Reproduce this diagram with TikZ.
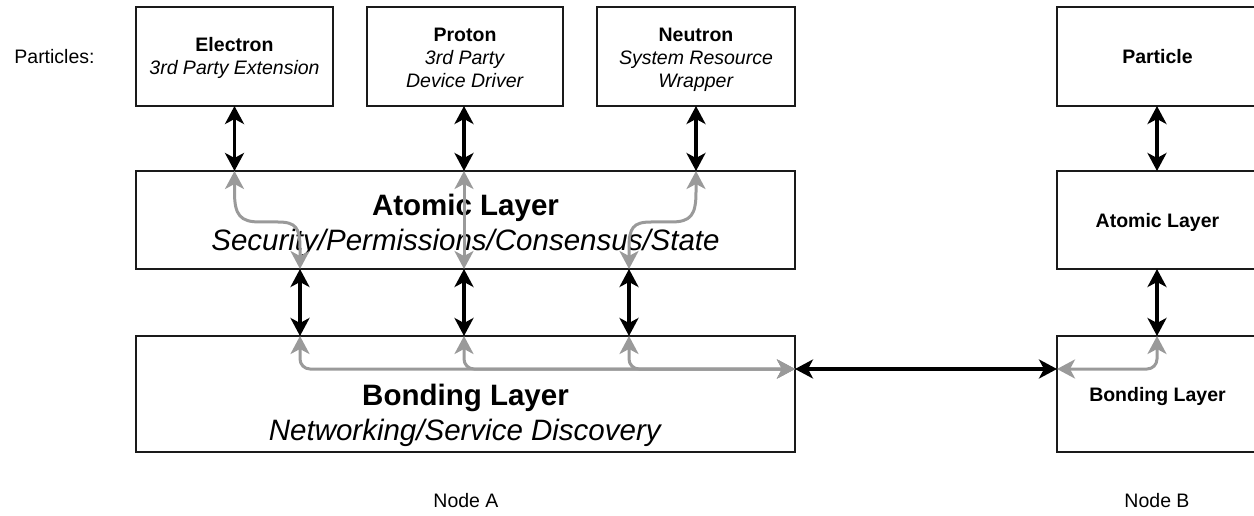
\documentclass[tikz,border=0pt]{standalone}
\usepackage{fontspec}
\setmainfont{Liberation Sans}
\usetikzlibrary{arrows.meta}
\definecolor{edgegray}{HTML}{9A9A9A}
\definecolor{boxline}{HTML}{1A1A1A}
\newcommand\fsmallx{\fontsize{19.5}{23}\selectfont}
\newcommand\fbigx{\fontsize{29.5}{35}\selectfont}
\tikzset{
  box/.style={draw=boxline, line width=2pt, inner sep=0pt, outer sep=0pt, rectangle, align=center, font=\fsmallx},
  onebox/.style={box, text depth=0pt},
  tipx/.tip={Stealth[length=18pt,width=19pt,inset=5pt]},
  blk/.style={draw=black, line width=3.2pt, tipx-tipx},
  gry/.style={draw=edgegray, line width=3pt, tipx-tipx},
  lbl/.style={inner sep=0pt, font=\fsmallx, align=center},
}
\begin{document}
\begin{tikzpicture}[x=1pt,y=-1pt]
\useasboundingbox (0,0) rectangle (1254,516);
% boxes
\node[box, minimum width=197pt, minimum height=99pt] (electron) at (234.5,56.5) {};
\node[lbl] (electronT) at (234.5,58) {\textbf{Electron}\\\textit{3rd Party Extension}};
\node[box, minimum width=196pt, minimum height=99pt] (proton) at (465,56.5) {};
\node[lbl] (protonT) at (465,58) {\textbf{Proton}\\\textit{3rd Party}\\\textit{Device Driver}};
\node[box, minimum width=198pt, minimum height=99pt] (neutron) at (696,56.5) {};
\node[lbl] (neutronT) at (696,60) {\textbf{Neutron}\\\textit{System Resource}\\\textit{Wrapper}};
\node[onebox, minimum width=201pt, minimum height=99pt] (particle) at (1157.5,56.5) {\textbf{Particle}};
\node[box, minimum width=659pt, minimum height=98pt] (atomA) at (465.5,220) {};
\node[lbl, font=\fbigx] (atomAT) at (465.5,225) {\textbf{Atomic Layer}\\\textit{Security/Permissions/Consensus/State}};
\node[box, minimum width=659pt, minimum height=116pt] (bondA) at (465.5,394) {};
\node[lbl, font=\fbigx] (bondAT) at (465.5,415) {\textbf{Bonding Layer}\\\textit{Networking/Service Discovery}};
\node[onebox, minimum width=201pt, minimum height=98pt] (atomB) at (1157.5,220) {\textbf{Atomic Layer}};
\node[onebox, minimum width=201pt, minimum height=116pt] (bondB) at (1157.5,394) {\textbf{Bonding Layer}};
% labels
\node[lbl] (plabel) at (54.5,57) {Particles:};
\node[lbl] (nodeA) at (466,501) {Node A};
\node[lbl] (nodeB) at (1157,501) {Node B};
% helper coordinates
\coordinate (c1) at (300,0);
\coordinate (c2) at (464,0);
\coordinate (c3) at (629,0);
\coordinate (cb) at (1157,0);
% gray connectors in atomic layer
\draw[gry] (electron.south |- atomA.north) -- (234.5,192) .. controls (234.5,215) and (240,222) .. (260,222) -- (278,222) .. controls (296,222) and (300,228) .. (300,248) -- (c1 |- atomA.south);
\draw[gry] (c2 |- atomA.north) -- (c2 |- atomA.south);
\draw[gry] (neutron.south |- atomA.north) -- (696,192) .. controls (696,215) and (691,222) .. (671,222) -- (651,222) .. controls (633,222) and (629,228) .. (629,248) -- (c3 |- atomA.south);
% gray connectors in bonding layer
\draw[gry, rounded corners=10pt] (c1 |- bondA.north) -- (300,369) -- ([yshift=25pt]bondA.east);
\draw[gry, rounded corners=10pt] (c2 |- bondA.north) -- (464,369) -- ([yshift=25pt]bondA.east);
\draw[gry, rounded corners=10pt] (c3 |- bondA.north) -- (629,369) -- ([yshift=25pt]bondA.east);
\draw[gry, rounded corners=10pt] ([yshift=25pt]bondB.west) -- (1157,369) -- (cb |- bondB.north);
% black connectors
\draw[blk] (electron.south) -- (electron.south |- atomA.north);
\draw[blk] (c2 |- proton.south) -- (c2 |- atomA.north);
\draw[blk] (neutron.south) -- (neutron.south |- atomA.north);
\draw[blk] (cb |- particle.south) -- (cb |- atomB.north);
\draw[blk] (cb |- atomB.south) -- (cb |- bondB.north);
\draw[blk] (c1 |- atomA.south) -- (c1 |- bondA.north);
\draw[blk] (c2 |- atomA.south) -- (c2 |- bondA.north);
\draw[blk] (c3 |- atomA.south) -- (c3 |- bondA.north);
\draw[blk] ([yshift=25pt]bondA.east) -- ([yshift=25pt]bondB.west);
\end{tikzpicture}
\end{document}
